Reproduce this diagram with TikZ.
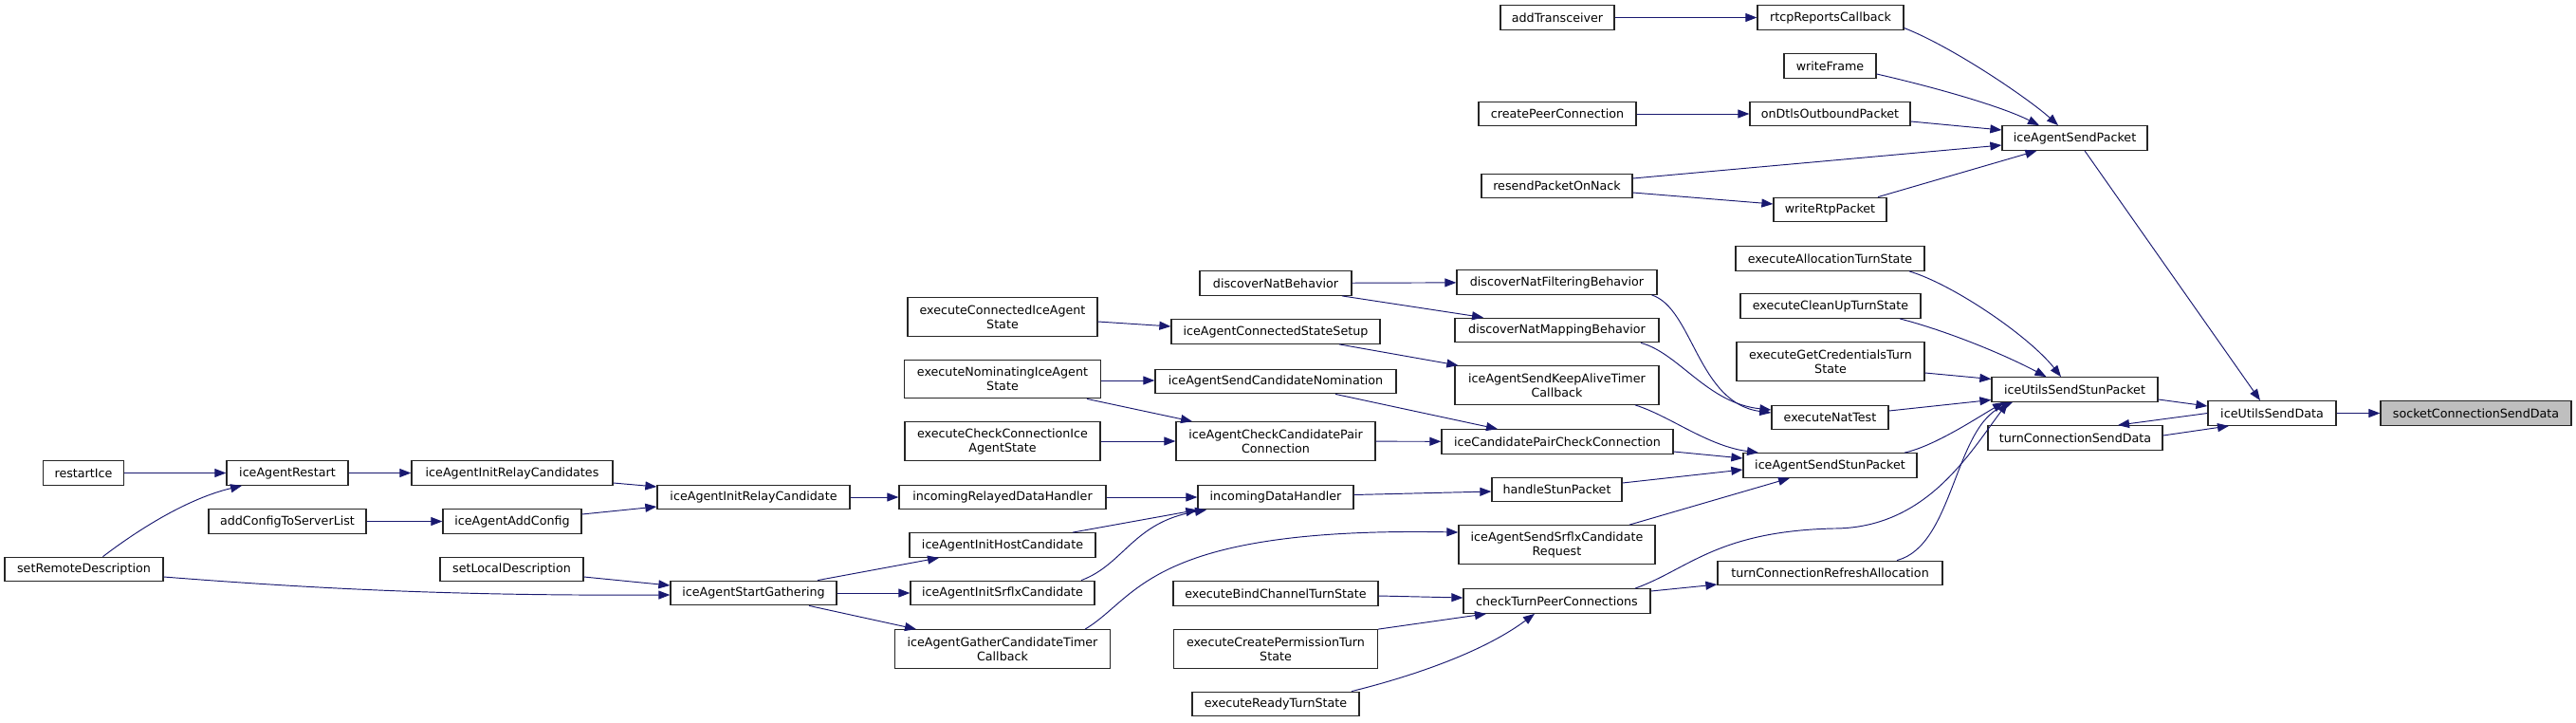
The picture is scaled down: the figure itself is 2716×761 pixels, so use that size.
\documentclass[tikz,border=0pt]{standalone}
\usepackage{fontspec}
\setmainfont{DejaVu Sans}
\usetikzlibrary{arrows.meta}
\definecolor{edgeblue}{RGB}{25,25,112}
\definecolor{rootgray}{RGB}{191,191,191}
\newcommand{\boxfont}{\fontsize{12.7}{15}\selectfont}

\begin{document}
\begin{tikzpicture}[x=1pt, y=-1pt,
  box/.style={draw=black!85, fill=white, line width=1.3pt, inner sep=0pt, minimum height=25.5pt, align=center, font=\boxfont},
  two/.style={minimum height=40.5pt},
  bw/.style={minimum width=#1pt},
  arr/.style={draw=edgeblue, line width=0.95pt, -{Triangle[length=12pt, width=9pt]}}]
\useasboundingbox (0,0) rectangle (2716,761);
\node[box, bw=120] (addtr) at (1642,18.5) {addTransceiver};
\node[box, bw=154] (rtcp) at (1930,18.5) {rtcpReportsCallback};
\node[box, bw=97] (wframe) at (1929.5,69.5) {writeFrame};
\node[box, bw=166] (createpc) at (1642,120) {createPeerConnection};
\node[box, bw=169] (ondtls) at (1929.5,120) {onDtlsOutboundPacket};
\node[box, bw=159] (resend) at (1641.5,196) {resendPacketOnNack};
\node[box, bw=119] (wrtp) at (1929.5,221) {writeRtpPacket};
\node[box, bw=153] (sendpkt) at (2187.5,145.5) {iceAgentSendPacket};
\node[box, bw=199] (alloc) at (1929.5,272.5) {executeAllocationTurnState};
\node[box, bw=160] (dnb) at (1345,298.5) {discoverNatBehavior};
\node[box, bw=211] (dnfb) at (1641.5,297.5) {discoverNatFilteringBehavior};
\node[box, bw=190] (cleanup) at (1930,322.5) {executeCleanUpTurnState};
\node[box, two, bw=200] (connstate) at (1057,334) {executeConnectedIceAgent\\State};
\node[box, bw=220] (connsetup) at (1345,349.5) {iceAgentConnectedStateSetup};
\node[box, bw=215] (dnmb) at (1641.5,348) {discoverNatMappingBehavior};
\node[box, two, bw=198] (getcred) at (1930,381) {executeGetCredentialsTurn\\State};
\node[box, two, bw=207] (nomstate) at (1057,399.5) {executeNominatingIceAgent\\State};
\node[box, bw=254] (sendnom) at (1345,402) {iceAgentSendCandidateNomination};
\node[box, two, bw=215] (keepalive) at (1641.5,406) {iceAgentSendKeepAliveTimer\\Callback};
\node[box, bw=175] (utilstun) at (2187.5,410.5) {iceUtilsSendStunPacket};
\node[box, bw=123] (nattest) at (1929.5,440) {executeNatTest};
\node[box, bw=135] (utilsdata) at (2395.5,435.5) {iceUtilsSendData};
\node[box, bw=201, fill=rootgray] (sockdata) at (2610.5,435.5) {socketConnectionSendData};
\node[box, bw=184] (turnsend) at (2188,461.5) {turnConnectionSendData};
\node[box, two, bw=206] (checkstate) at (1057,465) {executeCheckConnectionIce\\AgentState};
\node[box, two, bw=210] (checkpair) at (1345,465) {iceAgentCheckCandidatePair\\Connection};
\node[box, bw=244] (paircheck) at (1642,465.5) {iceCandidatePairCheckConnection};
\node[box, bw=183] (sendstun) at (1929.5,490.5) {iceAgentSendStunPacket};
\node[box, bw=85] (restartice) at (88,498.5) {restartIce};
\node[box, bw=128] (restart) at (303,498.5) {iceAgentRestart};
\node[box, bw=212] (initrelays) at (540,498.5) {iceAgentInitRelayCandidates};
\node[box, bw=203] (initrelay) at (794.5,524) {iceAgentInitRelayCandidate};
\node[box, bw=218] (relayed) at (1057,524) {incomingRelayedDataHandler};
\node[box, bw=164] (incoming) at (1345,524) {incomingDataHandler};
\node[box, bw=137] (handlestun) at (1641.5,516) {handleStunPacket};
\node[box, bw=166] (addcfglist) at (303,549.5) {addConfigToServerList};
\node[box, bw=146] (addcfg) at (540,549.5) {iceAgentAddConfig};
\node[box, bw=196] (inithost) at (1057,574.5) {iceAgentInitHostCandidate};
\node[box, two, bw=207] (srflxreq) at (1641.5,574) {iceAgentSendSrflxCandidate\\Request};
\node[box, bw=167] (setremote) at (88.5,600) {setRemoteDescription};
\node[box, bw=151] (setlocal) at (539.5,600) {setLocalDescription};
\node[box, bw=237] (refresh) at (1929.5,604) {turnConnectionRefreshAllocation};
\node[box, bw=175] (startgath) at (794.5,625) {iceAgentStartGathering};
\node[box, bw=194] (initsrflx) at (1057,625) {iceAgentInitSrflxCandidate};
\node[box, bw=216] (bindch) at (1345,625.5) {executeBindChannelTurnState};
\node[box, bw=197] (checkturn) at (1641.5,633.5) {checkTurnPeerConnections};
\node[box, two, bw=227] (gathtimer) at (1057,684) {iceAgentGatherCandidateTimer\\Callback};
\node[box, two, bw=215] (createperm) at (1345,684) {executeCreatePermissionTurn\\State};
\node[box, bw=176] (ready) at (1345,742) {executeReadyTurnState};
\draw[arr] (addtr) -- (rtcp);
\draw[arr] ([yshift=-11pt]rtcp.east) .. controls (2060,50) and (2140,105) .. ([xshift=-17.5pt]sendpkt.north);
\draw[arr] ([yshift=-8.5pt]wframe.east) .. controls (2040,92) and (2110,112) .. ([xshift=-37.5pt]sendpkt.north);
\draw[arr] (createpc) -- (ondtls);
\draw[arr] ([yshift=-8pt]ondtls.east) -- ([yshift=8.5pt]sendpkt.west);
\draw[arr] ([yshift=8pt]resend.east) -- ([yshift=-7.5pt]sendpkt.west);
\draw[arr] ([yshift=-7pt]resend.east) -- ([yshift=6pt]wrtp.west);
\draw[arr] ([xshift=50.5pt]wrtp.north) -- ([xshift=-40pt]sendpkt.south);
\draw[arr] ([xshift=10.5pt]sendpkt.south) -- ([xshift=-12.5pt]utilsdata.north);
\draw[arr] ([xshift=83.5pt]alloc.south) .. controls (2060,300) and (2140,355) .. ([xshift=-14.5pt]utilstun.north);
\draw[arr] ([xshift=73pt]cleanup.south) .. controls (2050,348) and (2110,372) .. ([xshift=-30pt]utilstun.north);
\draw[arr] ([yshift=-12pt]getcred.east) -- ([yshift=11pt]utilstun.west);
\draw[arr] ([yshift=7pt]nattest.east) -- ([yshift=-11pt]utilstun.west);
\draw[arr] ([xshift=78.5pt]sendstun.north) .. controls (2040,470) and (2085,440) .. ([xshift=-74.5pt]utilstun.south);
\draw[arr] ([xshift=82.5pt]checkturn.north) .. controls (1780,600) and (1810,560) .. (1933,557) .. controls (2030,557) and (2075,480) .. ([xshift=-70.5pt]utilstun.south);
\draw[arr] ([xshift=70.5pt]refresh.north) .. controls (2060,575) and (2060,450) .. ([xshift=-65.5pt]utilstun.south);
\draw[arr] ([yshift=-10.5pt]utilstun.east) -- ([yshift=7.5pt]utilsdata.west);
\draw[arr] (utilsdata.west) -- ([xshift=45pt]turnsend.north);
\draw[arr] ([yshift=2.5pt]turnsend.east) -- ([xshift=-45.5pt]utilsdata.south);
\draw[arr] (utilsdata) -- (sockdata);
\draw[arr] (dnb) -- (dnfb);
\draw[arr] ([xshift=70pt]dnb.south) -- ([xshift=-77.5pt]dnmb.north);
\draw[arr] ([xshift=100pt]dnfb.south) .. controls (1785,325) and (1790,425) .. ([yshift=5pt]nattest.west);
\draw[arr] ([xshift=88.5pt]dnmb.south) .. controls (1770,372) and (1800,425) .. ([yshift=8pt]nattest.west);
\draw[arr] ([yshift=-5pt]connstate.east) -- ([yshift=5.5pt]connsetup.west);
\draw[arr] ([xshift=67pt]connsetup.south) -- ([xshift=4pt]keepalive.north west);
\draw[arr] ([yshift=-1.5pt]nomstate.east) -- ([yshift=1pt]sendnom.west);
\draw[arr] ([xshift=89pt]nomstate.south) -- ([xshift=-88pt]checkpair.north);
\draw[arr] (checkstate) -- (checkpair);
\draw[arr] ([xshift=63pt]sendnom.south) -- ([xshift=-63pt]paircheck.north);
\draw[arr] (checkpair) -- (paircheck);
\draw[arr] ([xshift=82.5pt]keepalive.south) .. controls (1760,438) and (1800,470) .. ([xshift=-75.5pt]sendstun.north);
\draw[arr] ([yshift=-10.5pt]paircheck.east) -- ([yshift=7.5pt]sendstun.west);
\draw[arr] ([yshift=7pt]handlestun.east) -- ([yshift=-4.5pt]sendstun.west);
\draw[arr] ([xshift=76.5pt]srflxreq.north) -- ([xshift=-42.5pt]sendstun.south);
\draw[arr] ([yshift=2.5pt]incoming.east) -- ([yshift=-2pt]handlestun.west);
\draw[arr] (relayed) -- (incoming);
\draw[arr] ([xshift=74pt]inithost.north) -- (incoming.south west);
\draw[arr] ([xshift=83pt]initsrflx.north) .. controls (1185,595) and (1195,550) .. ([xshift=-73pt]incoming.south);
\draw[arr] ([xshift=87pt]gathtimer.north) .. controls (1200,630) and (1210,555) .. ([yshift=13pt]srflxreq.west);
\draw[arr] (initrelay) -- (relayed);
\draw[arr] (restart) -- (initrelays);
\draw[arr] ([yshift=-10.5pt]initrelays.east) -- ([yshift=11pt]initrelay.west);
\draw[arr] ([yshift=7.5pt]addcfg.east) -- ([yshift=-10pt]initrelay.west);
\draw[arr] (addcfglist) -- (addcfg);
\draw[arr] (restartice) -- (restart);
\draw[arr] ([xshift=20pt]setremote.north) .. controls (150,555) and (200,525) .. ([xshift=-48pt]restart.south);
\draw[arr] ([yshift=-8pt]setremote.east) .. controls (350,622) and (500,628) .. ([yshift=-2pt]startgath.west);
\draw[arr] ([yshift=-8pt]setlocal.east) -- ([yshift=8pt]startgath.west);
\draw[arr] ([xshift=67.5pt]startgath.north) -- ([xshift=-67pt]inithost.south);
\draw[arr] (startgath) -- (initsrflx);
\draw[arr] ([xshift=58.5pt]startgath.south) -- ([xshift=-91pt]gathtimer.north);
\draw[arr] ([yshift=-2.5pt]bindch.east) -- ([yshift=3.5pt]checkturn.west);
\draw[arr] (createperm.north east) -- ([xshift=-74.5pt]checkturn.south);
\draw[arr] ([xshift=80pt]ready.north) .. controls (1480,715) and (1560,690) .. ([xshift=-23.5pt]checkturn.south);
\draw[arr] ([yshift=10.5pt]checkturn.east) -- ([yshift=-12pt]refresh.west);
\end{tikzpicture}
\end{document}
